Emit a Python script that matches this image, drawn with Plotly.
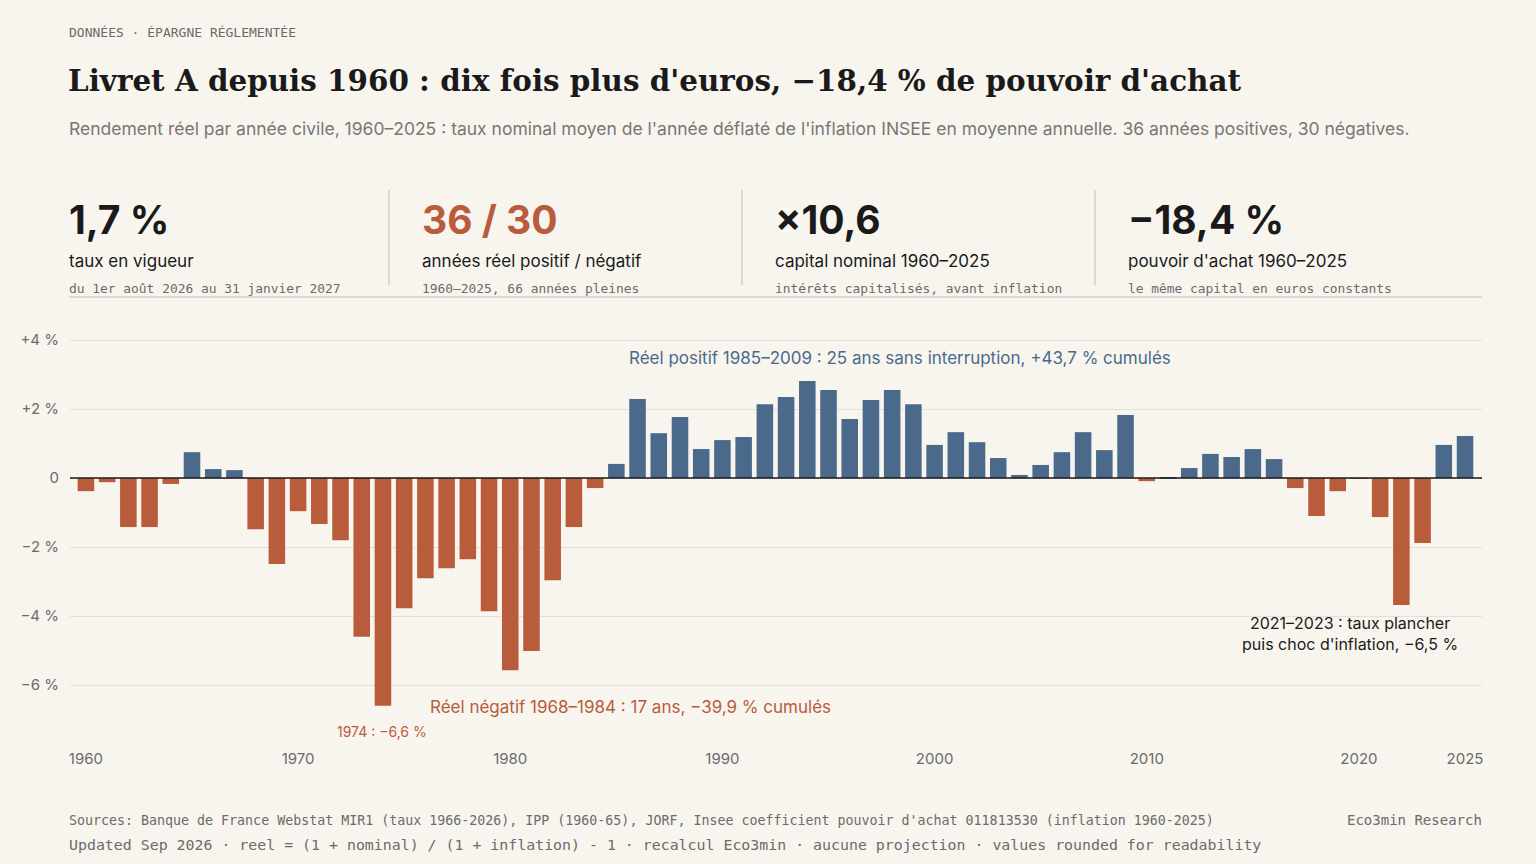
import plotly.graph_objects as go

years = list(range(1960, 2026))
real_return = [-0.38,-0.12,-1.42,-1.42,-0.17,0.75,0.26,0.23,-1.48,-2.49,
 -0.96,-1.33,-1.80,-4.60,-6.60,-3.77,-2.90,-2.61,-2.35,-3.86,
 -5.57,-5.01,-2.96,-1.42,-0.29,0.41,2.29,1.30,1.77,0.84,
 1.10,1.19,2.14,2.35,2.81,2.55,1.71,2.26,2.55,2.14,
 0.96,1.33,1.04,0.58,0.09,0.38,0.75,1.33,0.81,1.83,
 -0.09,0.02,0.29,0.70,0.61,0.84,0.55,-0.29,-1.10,-0.38,
 -0.02,-1.13,-3.68,-1.88,0.96,1.22]
x_ticks = [1960,1970,1980,1990,2000,2010,2020,2025]
y_ticks = [-6,-4,-2,0,2,4]
y_tick_labels = ["−6 %","−4 %","−2 %","0","+2 %","+4 %"]

BLUE = "#4b6a8b"; ORANGE = "#b95c3c"; BG = "#f8f5ef"
colors = [BLUE if v >= 0 else ORANGE for v in real_return]

W, H = 1536, 864
L, R, T, B = 70, 1482, 320, 740
def px(x): return (x - L) / (R - L)
def py(y): return (B - y) / (B - T)

fig = go.Figure(go.Bar(x=years, y=real_return, marker_color=colors, marker_line_width=0, width=0.78))

ann = []
def txt(x, y, s, size, color, family="Inter", xanchor="left", yanchor="middle", **kw):
    if xanchor == "left":
        x -= 2
    elif xanchor == "right":
        x += 2
    ann.append(dict(x=px(x), y=py(y), xref="paper", yref="paper", text=s, showarrow=False,
                    font=dict(size=size, color=color, family=family), xanchor=xanchor, yanchor=yanchor, **kw))

MONO = "DejaVu Sans Mono"
txt(69, 32, "DONNÉES · ÉPARGNE RÉGLEMENTÉE", 13, "#6b6b6b", MONO)
txt(68, 80, "<b>Livret A depuis 1960 : dix fois plus d'euros, −18,4 % de pouvoir d'achat</b>", 29.4, "#1a1a1a", "DejaVu Serif")
txt(69, 128, "Rendement réel par année civile, 1960–2025 : taux nominal moyen de l'année déflaté de l'inflation INSEE en moyenne annuelle. 36 années positives, 30 négatives.", 17.5, "#777777")

kpis = [(69, "1,7 %", "#1a1a1a", "taux en vigueur", "du 1er août 2026 au 31 janvier 2027"),
        (422, "36 / 30", ORANGE, "années réel positif / négatif", "1960–2025, 66 années pleines"),
        (775, "×10,6", "#1a1a1a", "capital nominal 1960–2025", "intérêts capitalisés, avant inflation"),
        (1128, "−18,4 %", "#1a1a1a", "pouvoir d'achat 1960–2025", "le même capital en euros constants")]
for x, big, c, lab, sub in kpis:
    txt(x, 219, "<b>" + big + "</b>", 39, c)
    txt(x, 261, lab, 17, "#1a1a1a")
    txt(x, 288, sub, 12.9, "#6b6b6b", MONO)

txt(900, 358, "Réel positif 1985–2009 : 25 ans sans interruption, +43,7 % cumulés", 17, BLUE, xanchor="center")
txt(630, 707, "Réel négatif 1968–1984 : 17 ans, −39,9 % cumulés", 17, ORANGE, xanchor="center")
txt(382, 731, "1974 : −6,6 %", 14, ORANGE, xanchor="center")
txt(1350, 633, "2021–2023 : taux plancher<br>puis choc d'inflation, −6,5 %", 16, "#1a1a1a", xanchor="center", align="center")

txt(69, 820, "Sources: Banque de France Webstat MIR1 (taux 1966-2026), IPP (1960-65), JORF, Insee coefficient pouvoir d'achat 011813530 (inflation 1960-2025)", 13.3, "#6b6b6b", MONO)
txt(69, 845, "Updated Sep 2026 · reel = (1 + nominal) / (1 + inflation) - 1 · recalcul Eco3min · aucune projection · values rounded for readability", 14.9, "#6b6b6b", MONO)
txt(1482, 820, "Eco3min Research", 14, "#6b6b6b", MONO, xanchor="right")

shapes = []
for x in [389, 742, 1095]:
    shapes.append(dict(type="line", xref="paper", yref="paper", x0=px(x), x1=px(x), y0=py(190), y1=py(285), line=dict(color="#dddad3", width=2)))
shapes.append(dict(type="line", xref="paper", yref="paper", x0=px(69), x1=px(1482), y0=py(297), y1=py(297), line=dict(color="#dddad3", width=2)))
shapes.append(dict(type="line", xref="paper", yref="y", x0=0, x1=1, y0=0, y1=0, line=dict(color="#1a1a1a", width=1.5)))

fig.update_layout(
    width=W, height=H, paper_bgcolor=BG, plot_bgcolor=BG,
    margin=dict(l=L, r=W - R, t=T, b=H - B, autoexpand=False),
    showlegend=False, annotations=ann, shapes=shapes,
    font=dict(family="Inter", color="#6b6b6b"),
    xaxis=dict(range=[1959.25, 2025.8], tickvals=x_ticks, showgrid=False, zeroline=False,
               tickfont=dict(size=15, color="#6b6b6b"), ticklabelstandoff=8),
    yaxis=dict(range=[-7.59, 4.58], tickvals=y_ticks, ticktext=y_tick_labels, showgrid=True,
               gridcolor="#e3e0d9", gridwidth=1, zeroline=False, tickfont=dict(size=15, color="#6b6b6b"),
               ticklabelstandoff=10),
    bargap=0.2,
)
fig.write_html("out.html", config={"displayModeBar": False},
               post_script="document.body.style.margin='0';document.body.style.background='#f8f5ef';")
